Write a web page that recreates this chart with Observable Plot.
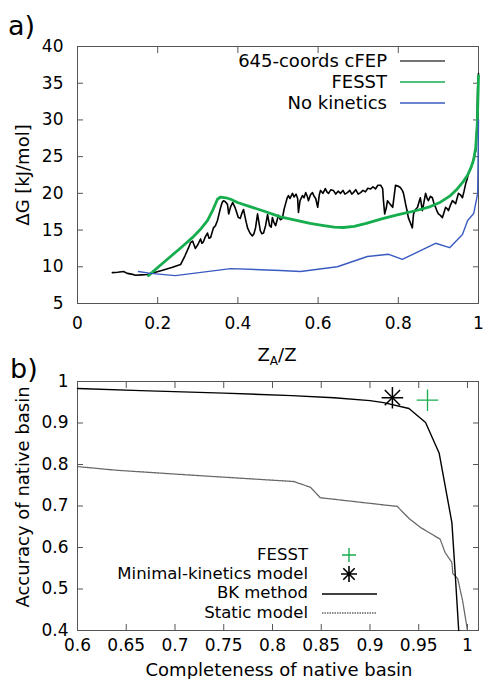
<!DOCTYPE html>
<html>
<head>
<meta charset="utf-8">
<script src="https://cdn.jsdelivr.net/npm/d3@7"></script>
<script src="https://cdn.jsdelivr.net/npm/@observablehq/plot@0.6"></script>
<style>
  html, body { margin: 0; padding: 0; background: #fff; }
  #wrap { position: relative; width: 484px; height: 679px; font-family: "DejaVu Sans", "Liberation Sans", Arial, sans-serif; color: #000; overflow: hidden; }
  #wrap > .plot { position: absolute; left: 0; }
  .lbl { position: absolute; white-space: nowrap; line-height: 1; }
  .leg { position: absolute; display: flex; align-items: center; white-space: nowrap; line-height: 1; }
  .leg span { display: inline-block; text-align: right; line-height: 1; }
  .leg svg { display: block; }
</style>
</head>
<body>
<div id="wrap"></div>
<script>
// ---------- Panel a) data ----------
const seriesA = ["645-coords cFEP", "FESST", "No kinetics"];
const colorsA = ["#000000", "#16ad4e", "#3a5bbf"];
const cfepX = [0.087,0.100,0.115,0.124,0.135,0.145,0.160,0.174,0.190,0.210,0.235,0.257,0.268,0.277,0.282,0.287,0.294,0.300,0.307,0.310,0.314,0.318,0.324,0.328,0.332,0.339,0.344,0.349,0.353,0.357,0.361,0.364,0.368,0.374,0.377,0.382,0.387,0.391,0.394,0.401,0.406,0.410,0.414,0.419,0.424,0.430,0.436,0.440,0.444,0.449,0.452,0.456,0.460,0.464,0.469,0.474,0.479,0.483,0.486,0.490,0.494,0.501,0.506,0.511,0.515,0.519,0.523,0.526,0.530,0.536,0.540,0.545,0.549,0.551,0.555,0.561,0.565,0.569,0.573,0.576,0.581,0.586,0.590,0.594,0.599,0.603,0.606,0.612,0.618,0.622,0.626,0.632,0.638,0.644,0.650,0.656,0.662,0.667,0.673,0.679,0.684,0.688,0.694,0.700,0.706,0.712,0.718,0.724,0.731,0.737,0.743,0.749,0.756,0.761,0.763,0.766,0.770,0.773,0.780,0.786,0.790,0.793,0.799,0.805,0.810,0.813,0.818,0.822,0.825,0.830,0.835,0.838,0.843,0.848,0.852,0.855,0.860,0.864,0.868,0.872,0.875,0.880,0.885,0.889,0.893,0.897,0.900,0.905,0.910,0.914,0.918,0.922,0.925,0.930,0.935,0.939,0.943,0.947,0.950,0.955,0.960,0.964,0.968,0.972,0.975,0.980,0.985,0.989,0.993,0.996,0.998,1.000];
const cfepY = [9.2,9.25,9.35,9.1,9.0,8.85,8.9,8.95,9.2,9.5,9.9,10.3,11.5,12.6,13.3,13.5,12.5,13.0,13.8,13.2,13.4,14.0,14.6,13.9,14.0,15.3,15.6,16.3,17.2,18.1,18.8,19.0,18.9,18.5,17.2,18.2,18.75,18.3,17.9,16.7,16.6,17.3,17.8,16.5,15.3,14.6,14.2,14.5,15.3,17.2,16.2,14.9,14.5,14.6,15.6,17.1,15.6,15.4,16.7,16.0,15.6,17.0,16.4,16.6,17.8,18.6,19.4,19.7,19.3,20.0,19.5,19.9,19.3,17.4,19.0,19.7,19.4,20.1,19.6,19.0,19.8,20.1,19.6,19.3,18.1,19.8,20.4,20.0,20.65,20.2,20.0,20.5,20.4,19.9,20.3,20.0,20.4,19.9,20.1,20.4,19.9,20.1,20.5,19.9,20.1,20.4,20.2,20.7,20.6,20.9,20.6,21.1,21.1,20.65,19.0,17.2,18.0,19.0,18.5,18.1,19.8,21.1,21.0,20.8,20.4,20.0,18.6,17.6,16.7,16.0,15.3,17.2,17.8,18.1,18.9,19.4,17.65,18.8,20.0,19.3,19.0,19.6,19.4,18.6,18.1,17.5,17.2,17.0,16.7,17.4,18.1,17.9,17.65,18.4,19.0,18.8,18.6,19.4,20.0,19.8,19.4,20.3,21.3,22.0,22.7,23.3,24.1,25.0,25.8,29.0,34.4,36.3];
const fesstX = [0.177,0.200,0.230,0.260,0.287,0.305,0.324,0.338,0.349,0.357,0.370,0.382,0.399,0.430,0.464,0.506,0.549,0.580,0.614,0.640,0.663,0.690,0.720,0.763,0.800,0.848,0.880,0.905,0.930,0.947,0.962,0.973,0.982,0.988,0.993,0.997,1.000];
const fesstY = [8.8,9.9,11.3,12.7,14.0,15.0,16.3,17.8,19.2,19.5,19.4,19.2,18.75,18.2,17.6,16.8,16.3,15.9,15.6,15.4,15.35,15.5,15.9,16.6,17.1,17.7,18.2,18.8,19.7,20.6,21.6,22.5,23.6,24.6,26.2,29.5,36.0];
const nokinX = [0.152,0.182,0.244,0.382,0.506,0.556,0.648,0.723,0.776,0.810,0.893,0.928,0.960,0.973,0.988,0.998,1.000];
const nokinY = [9.35,9.1,8.8,9.75,9.5,9.35,10.0,11.4,11.7,11.0,13.2,12.6,14.4,16.3,17.25,20.0,30.0];
const xTicksA = [0, 0.2, 0.4, 0.6, 0.8, 1];
const yTicksA = [5, 10, 15, 20, 25, 30, 35, 40];

// ---------- Panel b) data ----------
const seriesB = ["FESST", "Minimal-kinetics model", "BK method", "Static model"];
const bkX = [0.600,0.665,0.750,0.820,0.863,0.900,0.914,0.940,0.957,0.971,0.984,0.987,0.991];
const bkY = [0.983,0.978,0.972,0.966,0.961,0.954,0.949,0.935,0.901,0.827,0.660,0.552,0.400];
const staticX = [0.600,0.641,0.726,0.822,0.839,0.849,0.928,0.940,0.952,0.972,0.977,0.984,0.985,0.990,0.995,1.000];
const staticY = [0.795,0.786,0.773,0.759,0.745,0.720,0.699,0.670,0.648,0.620,0.588,0.564,0.537,0.525,0.472,0.400];
const fesstPoint = [0.959, 0.955];
const minKinPoint = [0.923, 0.961];
const xTicksB = [0.6, 0.65, 0.7, 0.75, 0.8, 0.85, 0.9, 0.95, 1];
const yTicksB = [0.4, 0.5, 0.6, 0.7, 0.8, 0.9, 1];

const FONT = '"DejaVu Sans", "Liberation Sans", Arial, sans-serif';
const fmt = d => String(+d.toFixed(2));
const toPts = (xs, ys) => xs.map((x, i) => ({x, y: ys[i]}));
const wrap = document.getElementById("wrap");

function frameAxes(xt, yt, fs, padX, padY) {
  return [
    Plot.frame({stroke: "#555", strokeWidth: 1}),
    Plot.axisX({ticks: xt, tickSize: -6, tickPadding: padX, tickFormat: fmt, label: null, stroke: "#555", fontSize: fs}),
    Plot.axisX({anchor: "top", ticks: xt, tickSize: -6, tickFormat: () => "", label: null, stroke: "#555"}),
    Plot.axisY({ticks: yt, tickSize: -6, tickPadding: padY, tickFormat: fmt, label: null, stroke: "#555", fontSize: fs}),
    Plot.axisY({anchor: "right", ticks: yt, tickSize: -6, tickFormat: () => "", label: null, stroke: "#555"})
  ];
}

// Panel a
const plotA = Plot.plot({
  width: 484, height: 340,
  marginLeft: 77, marginRight: 6, marginTop: 46, marginBottom: 37,
  x: {domain: [0, 1]},
  y: {domain: [5, 40]},
  style: {fontFamily: FONT, fontSize: "17px", color: "#000", background: "transparent", overflow: "visible"},
  marks: [
    ...frameAxes(xTicksA, yTicksA, 17, 19, 20),
    Plot.line(toPts(cfepX, cfepY), {x: "x", y: "y", stroke: colorsA[0], strokeWidth: 1.6}),
    Plot.line(toPts(fesstX, fesstY), {x: "x", y: "y", stroke: colorsA[1], strokeWidth: 2.8}),
    Plot.line(toPts(nokinX, nokinY), {x: "x", y: "y", stroke: colorsA[2], strokeWidth: 1.4})
  ]
});
plotA.classList.add("plot");
plotA.style.top = "0px";
wrap.appendChild(plotA);

// Panel b
const plotB = Plot.plot({
  width: 484, height: 310,
  marginLeft: 77, marginRight: 6, marginTop: 31, marginBottom: 30,
  x: {domain: [0.6, 1.0113]},
  y: {domain: [0.4, 1]},
  style: {fontFamily: FONT, fontSize: "17px", color: "#000", background: "transparent", overflow: "visible"},
  marks: [
    ...frameAxes(xTicksB, yTicksB, 17, 14, 15),
    Plot.line(toPts(staticX, staticY), {x: "x", y: "y", stroke: "#666", strokeWidth: 1.3, strokeDasharray: "1.5,1"}),
    Plot.line(toPts(bkX, bkY), {x: "x", y: "y", stroke: "#000", strokeWidth: 1.4}),
    Plot.dot([minKinPoint], {x: d => d[0], y: d => d[1], symbol: "plus", r: 7, stroke: "#000", strokeWidth: 1.5}),
    Plot.dot([minKinPoint], {x: d => d[0], y: d => d[1], symbol: "times", r: 7, stroke: "#000", strokeWidth: 1.5}),
    Plot.dot([fesstPoint], {x: d => d[0], y: d => d[1], symbol: "plus", r: 7, stroke: "#16ad4e", strokeWidth: 1.3})
  ]
});
plotB.classList.add("plot");
plotB.style.top = "350px";
wrap.appendChild(plotB);

// Labels
function addLabel(html, css) {
  const d = document.createElement("div");
  d.className = "lbl";
  d.innerHTML = html;
  Object.assign(d.style, css);
  wrap.appendChild(d);
  return d;
}
addLabel("a)", {left: "8px", top: "12px", fontSize: "27px"});
addLabel("b)", {left: "10px", top: "355px", fontSize: "27px"});
addLabel("Z<sub style='font-size:12px;vertical-align:-4px'>A</sub>/Z", {left: "277px", top: "346px", fontSize: "18px", transform: "translateX(-50%)"});
addLabel("Completeness of native basin", {left: "279px", top: "661px", fontSize: "18px", transform: "translateX(-50%)"});
addLabel("ΔG [kJ/mol]", {left: "23px", top: "175px", fontSize: "18px", transform: "translate(-50%,-50%) rotate(-90deg)"});
addLabel("Accuracy of native basin", {left: "23px", top: "497px", fontSize: "18px", transform: "translate(-50%,-50%) rotate(-90deg)"});

// Legends
function legendRow(text, swatch, right, cy, textW, fs, h) {
  const d = document.createElement("div");
  d.className = "leg";
  d.style.left = (right - textW) + "px";
  d.style.top = (cy - h / 2) + "px";
  d.style.height = h + "px";
  d.style.fontSize = fs + "px";
  d.innerHTML = `<span style="width:${textW}px">${text}</span>${swatch}`;
  wrap.appendChild(d);
}
const lineSw = (c, w, dash) => `<svg width="60" height="16"><line x1="13" x2="58" y1="8" y2="8" stroke="${c}" stroke-width="${w}" ${dash ? `stroke-dasharray="${dash}"` : ""}/></svg>`;
seriesA.forEach((s, i) => legendRow(s, lineSw(i === 0 ? "#444" : colorsA[i], 1.6), 387, 61 + i * 21, 220, 18, 20));

const plusSw = c => `<svg width="70" height="16"><path d="M41,1V15M34,8H48" stroke="${c}" stroke-width="1.4"/></svg>`;
const starSw = `<svg width="70" height="16"><path d="M41,0V16M33,8H49M35.3,2.3L46.7,13.7M35.3,13.7L46.7,2.3" stroke="#000" stroke-width="1.6"/></svg>`;
const lineSwB = (c, dash) => `<svg width="70" height="16"><line x1="14" x2="69" y1="8" y2="8" stroke="${c}" stroke-width="1.4" ${dash ? `stroke-dasharray="${dash}"` : ""}/></svg>`;
legendRow(seriesB[0], plusSw("#16ad4e"), 308, 555, 260, 16.5, 17);
legendRow(seriesB[1], starSw, 308, 574.3, 260, 16.5, 17);
legendRow(seriesB[2], lineSwB("#000"), 308, 593.6, 260, 16.5, 17);
legendRow(seriesB[3], lineSwB("#666", "1.5,1"), 308, 612.9, 260, 16.5, 17);
</script>
</body>
</html>
